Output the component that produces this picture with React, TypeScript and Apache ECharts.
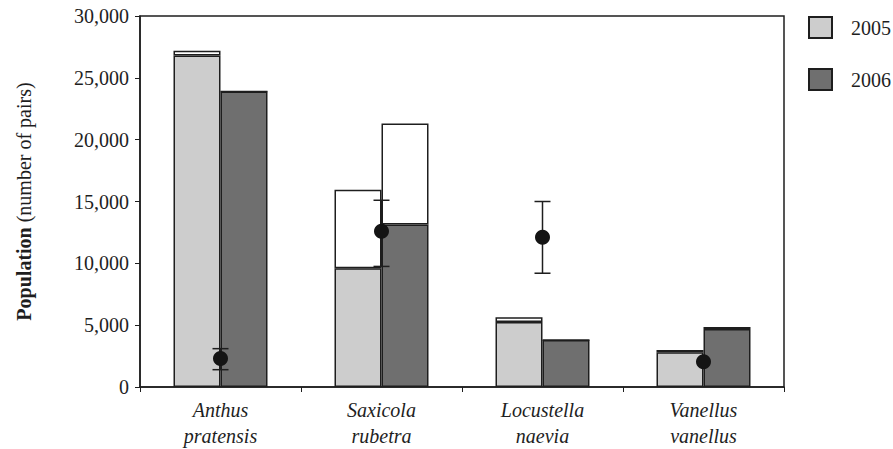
import React, { useEffect, useRef } from "react";
import * as echarts from "echarts";

const categories = ["Anthus\npratensis", "Saxicola\nrubetra", "Locustella\nnaevia", "Vanellus\nvanellus"];
const filled2005 = [26800, 9600, 5250, 2820];
const total2005 = [27200, 15950, 5650, 2990];
const filled2006 = [23900, 13150, 3800, 4680];
const total2006 = [23900, 21300, 3800, 4850];
const dotValues = [2300, 12600, 12100, 2050];
const errLow: (number | null)[] = [1400, 9750, 9200, null];
const errHigh: (number | null)[] = [3100, 15100, 15000, null];
const yTicks = [0, 5000, 10000, 15000, 20000, 25000, 30000];

const FONT = "Liberation Serif";
const INK = "#1e1e1e";

export default function App() {
  const ref = useRef<HTMLDivElement>(null);
  useEffect(() => {
    if (!ref.current) return;
    document.body.style.margin = "0";
    const chart = echarts.init(ref.current, null, { renderer: "svg" });
    const upper2005 = total2005.map((t, i) => t - filled2005[i]);
    const upper2006 = total2006.map((t, i) => t - filled2006[i]);
    const barStyle = (color: string) => ({ color, borderColor: INK, borderWidth: 1.5 });
    chart.setOption({
      animation: false,
      backgroundColor: "#ffffff",
      textStyle: { fontFamily: FONT },
      grid: { left: 140, right: 109, top: 16, bottom: 60, show: true, borderColor: INK, borderWidth: 1.5 },
      legend: {
        orient: "vertical",
        left: 808,
        top: 16,
        padding: 0,
        icon: "rect",
        itemWidth: 23,
        itemHeight: 21,
        itemGap: 29,
        data: ["2005", "2006"],
        textStyle: { fontFamily: FONT, fontSize: 20, color: INK, padding: [0, 0, 0, 14] },
      },
      xAxis: {
        type: "category",
        data: categories,
        axisLine: { lineStyle: { color: INK, width: 1.5 } },
        axisTick: { show: true, length: 5, lineStyle: { color: INK } },
        axisLabel: { fontFamily: FONT, fontSize: 20, fontStyle: "italic", color: INK, lineHeight: 26, margin: 10 },
      },
      yAxis: {
        type: "value",
        min: 0,
        max: 30000,
        interval: 5000,
        splitLine: { show: false },
        axisLine: { show: true, lineStyle: { color: INK, width: 1.5 } },
        axisTick: { show: true, length: 5, lineStyle: { color: INK } },
        axisLabel: {
          fontFamily: FONT,
          fontSize: 20,
          color: INK,
          margin: 11,
          formatter: (v: number) => (yTicks.includes(v) ? v.toLocaleString("en-US") : ""),
        },
        name: "{b|Population} (number of pairs)",
        nameLocation: "middle",
        nameGap: 106,
        nameTextStyle: {
          fontFamily: FONT,
          fontSize: 20,
          color: INK,
          rich: { b: { fontFamily: FONT, fontSize: 20, fontWeight: "bold", color: INK } },
        },
      },
      series: [
        { name: "2005", type: "bar", stack: "a", data: filled2005, barWidth: 47, barGap: "0%", itemStyle: barStyle("#cdcdcd") },
        { name: "2005 upper", type: "bar", stack: "a", data: upper2005, barWidth: 47, barGap: "0%", itemStyle: barStyle("#ffffff") },
        { name: "2006", type: "bar", stack: "b", data: filled2006, barWidth: 47, barGap: "0%", itemStyle: barStyle("#6f6f6f") },
        { name: "2006 upper", type: "bar", stack: "b", data: upper2006, barWidth: 47, barGap: "0%", itemStyle: barStyle("#ffffff") },
        {
          name: "error",
          type: "custom",
          z: 5,
          data: categories.map((_, i) => [i, errLow[i], errHigh[i]]),
          renderItem: (params: any, api: any) => {
            const lo = api.value(1);
            const hi = api.value(2);
            if (lo == null || hi == null || isNaN(lo) || isNaN(hi)) return null;
            const x = api.value(0);
            const pLo = api.coord([x, lo]);
            const pHi = api.coord([x, hi]);
            const half = 8;
            const style = { stroke: INK, lineWidth: 1.5 };
            return {
              type: "group",
              children: [
                { type: "line", shape: { x1: pLo[0], y1: pLo[1], x2: pHi[0], y2: pHi[1] }, style },
                { type: "line", shape: { x1: pLo[0] - half, y1: pLo[1], x2: pLo[0] + half, y2: pLo[1] }, style },
                { type: "line", shape: { x1: pHi[0] - half, y1: pHi[1], x2: pHi[0] + half, y2: pHi[1] }, style },
              ],
            };
          },
        },
        {
          name: "dots",
          type: "scatter",
          z: 6,
          data: dotValues,
          symbol: "circle",
          symbolSize: 15,
          itemStyle: { color: "#141414", opacity: 1 },
        },
      ],
    });
    return () => chart.dispose();
  }, []);
  return <div ref={ref} style={{ width: 893, height: 449 }} />;
}
